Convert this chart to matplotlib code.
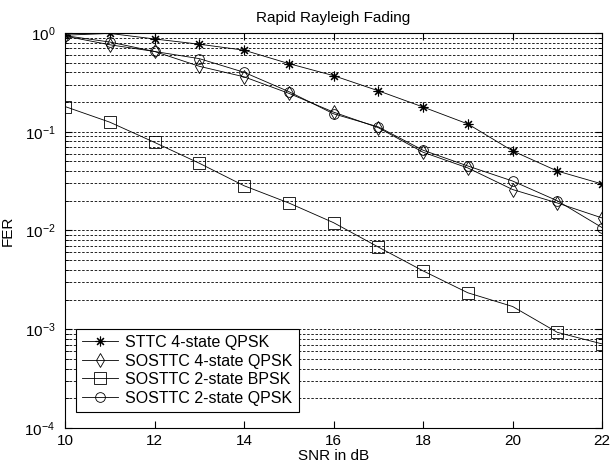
import matplotlib
matplotlib.use("Agg")
import matplotlib.pyplot as plt
import numpy as np

plt.rcParams['font.family'] = ['Liberation Sans', 'DejaVu Sans']
plt.rcParams['font.size'] = 11
plt.rcParams['mathtext.default'] = 'regular'

snr = [10, 11, 12, 13, 14, 15, 16, 17, 18, 19, 20, 21, 22]

# FER
fer_sttc4_qpsk = [0.95, 0.99, 0.87, 0.77, 0.67, 0.49, 0.37, 0.26, 0.178, 0.12, 0.064, 0.040, 0.0296]
fer_sosttc4_qpsk = [0.93, 0.76, 0.65, 0.46, 0.36, 0.245, 0.158, 0.110, 0.062, 0.043, 0.026, 0.019, 0.0134]
fer_sosttc2_bpsk = [0.18, 0.125, 0.078, 0.048, 0.0284, 0.019, 0.012, 0.0068, 0.0039, 0.00234, 0.0017, 0.00093, 0.00071]
fer_sosttc2_qpsk = [0.94, 0.81, 0.65, 0.55, 0.40, 0.255, 0.152, 0.112, 0.065, 0.045, 0.0317, 0.020, 0.0107]

labels = ['STTC 4-state QPSK', 'SOSTTC 4-state QPSK',
          'SOSTTC 2-state BPSK', 'SOSTTC 2-state QPSK']

fig = plt.figure(figsize=(6.1, 4.7), dpi=100)
ax = fig.add_axes([0.1066, 0.0894, 0.8804, 0.8404])

asterisk = (8, 2, 0)
ax.semilogy(snr, fer_sttc4_qpsk, 'k-', marker=asterisk, lw=0.6, ms=7, mew=0.8, label=labels[0])
ax.semilogy(snr, fer_sosttc4_qpsk, 'k-d', lw=0.6, ms=7, mfc='none', mew=0.6, label=labels[1])
ax.semilogy(snr, fer_sosttc2_bpsk, 'k-s', lw=0.6, ms=8, mfc='none', mew=0.6, label=labels[2])
ax.semilogy(snr, fer_sosttc2_qpsk, 'k-o', lw=0.6, ms=7, mfc='none', mew=0.6, label=labels[3])

ax.set_xlim(10, 22)
ax.set_ylim(1e-4, 1)
ax.set_xticks(np.arange(10, 23, 2))
ax.yaxis.grid(True, which='both', linestyle=(0, (3, 2)), color='k', lw=0.6)
ax.tick_params(which='both', direction='in', top=True, right=True)
ax.tick_params(axis='x', pad=4)
ax.tick_params(axis='y', pad=7)
ax.tick_params(which='major', length=5)
ax.tick_params(which='minor', length=3)
for s in ax.spines.values():
    s.set_linewidth(0.8)

ax.set_title('Rapid Rayleigh Fading', fontsize=11, pad=8)
ax.set_xlabel('SNR in dB', labelpad=1)
ax.set_ylabel('FER', labelpad=7)

leg = ax.legend(loc='lower left', bbox_to_anchor=(0.0205, 0.0405), borderaxespad=0,
                fancybox=False, framealpha=1, edgecolor='k', fontsize=11.5,
                borderpad=0.4, labelspacing=0.22, handlelength=2.2, handletextpad=0.45)
leg.get_frame().set_linewidth(0.8)

fig.savefig('out.png', dpi=100)
